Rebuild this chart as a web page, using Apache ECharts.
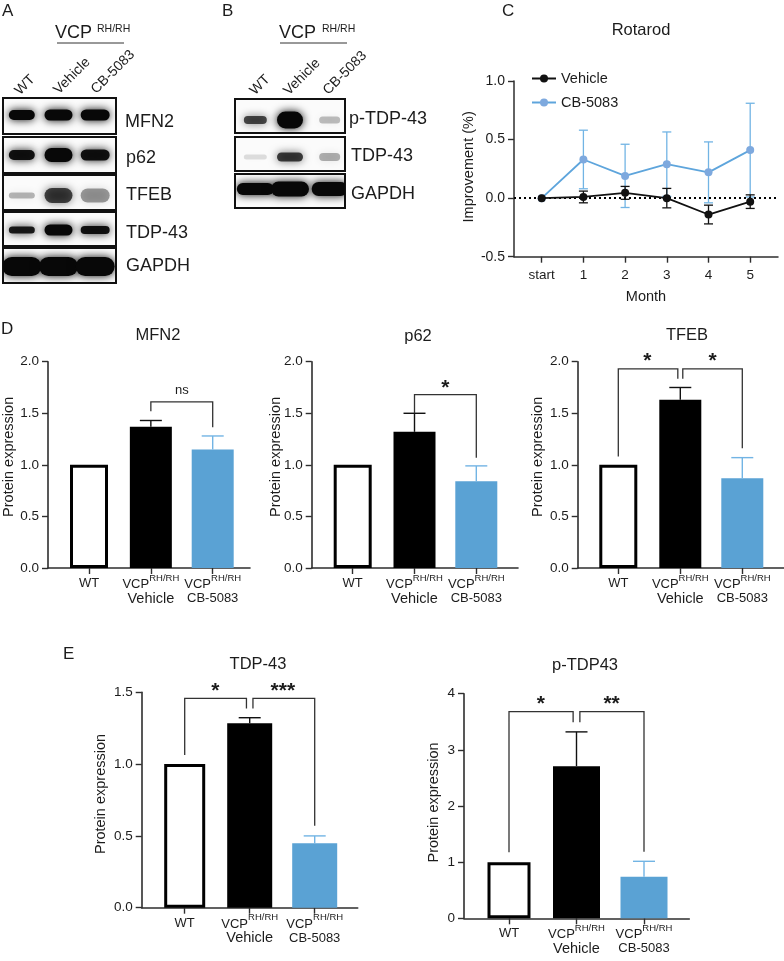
<!DOCTYPE html>
<html><head><meta charset="utf-8">
<style>html,body{margin:0;padding:0;background:#fff}#c{width:784px;height:961px}</style>
<script src="https://cdn.jsdelivr.net/npm/echarts@6/dist/echarts.min.js"></script>
</head><body><div id="c"></div>
<script>
// ---------- data ----------
const barGroups = ['WT', 'Vehicle', 'CB-5083'];
const mfn2Values = [1, 1.37, 1.15];
const mfn2Upper = [null, 1.43, 1.28];
const p62Values = [1, 1.32, 0.84];
const p62Upper = [null, 1.50, 0.99];
const tfebValues = [1, 1.63, 0.87];
const tfebUpper = [null, 1.75, 1.07];
const tdpValues = [1, 1.284, 0.448];
const tdpUpper = [null, 1.323, 0.50];
const pTdpValues = [1, 2.71, 0.742];
const pTdpUpper = [null, 3.32, 1.015];

const months = ['start', '1', '2', '3', '4', '5'];
const vehicleMean = [0, 0.01, 0.045, 0, -0.14, -0.03];
const vehicleErr = [0, 0.05, 0.055, 0.083, 0.08, 0.058];
const cbMean = [0, 0.33, 0.19, 0.29, 0.22, 0.41];
const cbErr = [0, 0.25, 0.27, 0.275, 0.26, 0.40];

// brackets: [xFrom, yFromBottom, xTo, yToBottom, yTop]
const mfn2Brackets = [[1, 1.52, 2, 1.365, 1.61]];
const p62Brackets = [[1, 1.50, 2, 1.07, 1.68]];
const tfebBrackets = [[0, 1.08, 0.96, 1.835, 1.93], [1.04, 1.835, 2, 1.16, 1.93]];
const tdpBrackets = [[0, 1.063, 0.95, 1.388, 1.458], [1.05, 1.388, 2, 0.57, 1.458]];
const pTdpBrackets = [[0, 1.175, 0.95, 3.49, 3.68], [1.05, 3.49, 2, 1.187, 3.68]];
// significance marks: [x, y, text]
const mfn2Marks = [[1.5, 1.72, 'ns']];
const p62Marks = [[1.5, 1.74, '*']];
const tfebMarks = [[0.47, 2.0, '*'], [1.52, 2.0, '*']];
const tdpMarks = [[0.47, 1.51, '*'], [1.51, 1.51, '***']];
const pTdpMarks = [[0.47, 3.82, '*'], [1.52, 3.82, '**']];

// blots: band intensity and band thickness, per lane
const blotLanes = ['WT', 'Vehicle', 'CB-5083'];
const aMfn2 = [1, 1, 1],        aMfn2Th = [10, 11, 11];
const aP62 = [0.95, 1, 0.95],   aP62Th = [10, 14, 11];
const aTfeb = [0.28, 0.72, 0.38], aTfebTh = [6, 15, 14];
const aTdp = [0.9, 1, 0.95],    aTdpTh = [7, 11, 8];
const aGapdh = [1, 1, 1],       aGapdhTh = [19, 19, 19];
const bPTdp = [0.7, 1, 0.25],   bPTdpTh = [8, 17, 7];
const bTdp = [0.12, 0.75, 0.3], bTdpTh = [5, 9, 8];
const bGapdh = [1, 1, 1],       bGapdhTh = [12, 15, 14];

// ---------- layout / style ----------
const FONT = '"Liberation Sans", Arial, sans-serif';
const INK = '#1c1c1c', AX = '#2e2e2e', BLUE = '#5aa2d4', BLUE_ERR = '#72b4e4', LINE_BLUE = '#5ea5dc', DOT_BLUE = '#7ea9de';

const grid = [], xAxis = [], yAxis = [], series = [];

function blot(box, lanes, th, bandW, cy, shift) {
  const g = grid.length, xi = xAxis.length, yi = yAxis.length;
  grid.push({left: box[0], top: box[1], width: box[2], height: box[3], show: true,
    borderColor: '#111', borderWidth: 2, backgroundColor: '#fbfbfb'});
  xAxis.push({gridIndex: g, type: 'category', data: blotLanes, show: false});
  yAxis.push({gridIndex: g, type: 'value', min: -1, max: 1, show: false});
  series.push({type: 'custom', coordinateSystem: 'cartesian2d', xAxisIndex: xi, yAxisIndex: yi, clip: true, silent: true,
    data: lanes.map((v, k) => [k, 0, v, th[k]]),
    renderItem(params, api) {
      const k = api.value(0);
      const p = api.coord([k, 0]);
      const a = api.value(2), t = api.value(3);
      const w = bandW[k];
      const col = 'rgba(8,8,8,' + a + ')';
      return {type: 'rect',
        shape: {x: p[0] + shift[k] - w / 2, y: p[1] + cy - t / 2, width: w, height: t, r: t / 2},
        style: {fill: col, shadowBlur: 8, shadowColor: col}};
    }});
}
const aW = [26, 28, 29], bW = [23, 26, 21], aS = [0, -1, -2], bS = [2, 0, 3];
blot([3, 98, 113, 36], aMfn2, aMfn2Th, aW, -1, aS);
blot([3, 137, 113, 36], aP62, aP62Th, aW, 0, aS);
blot([3, 175, 113, 35], aTfeb, aTfebTh, aW, 3, aS);
blot([3, 212, 113, 34], aTdp, aTdpTh, aW, 1, aS);
blot([3, 248, 113, 35], aGapdh, aGapdhTh, [39, 39, 39], 1, aS);
blot([235, 99, 110, 34], bPTdp, bPTdpTh, bW, 4, bS);
blot([235, 137, 110, 34], bTdp, bTdpTh, bW, 3, bS);
blot([235, 174, 110, 34], bGapdh, bGapdhTh, [37, 38, 36], -2, bS);

function xLabel(v) {
  const i = Math.round(v);
  if (i === 0) return '{w|WT}';
  return '{v|VCP}{s|RH/RH}\n{' + (i === 1 ? 'l' : 'c') + '|' + barGroups[i] + '}';
}
function barChart(g, values, upper, brackets, marks, yMax, yInt, dec, nameGap, namePad) {
  const i = grid.length, xIdx = xAxis.length, wtAxis = xIdx + 1, yIdx = yAxis.length;
  grid.push({left: g.l, top: g.t, width: g.r - g.l, height: g.b - g.t});
  const base = {gridIndex: i, type: 'value', min: (g.l - g.c0) / g.step, max: (g.r - g.c0) / g.step, splitLine: {show: false}};
  xAxis.push(Object.assign({}, base, {
    axisLine: {show: true, onZero: false, lineStyle: {color: AX, width: 1.6}},
    axisTick: {show: true, length: 6, lineStyle: {color: AX, width: 1.4}, customValues: [0, 1, 2]},
    axisLabel: {show: true, margin: 5, interval: 0, hideOverlap: false, customValues: [0, 1, 2], formatter: xLabel, verticalAlign: 'top', fontFamily: FONT,
      rich: {
        w: {fontSize: 13, fontFamily: FONT, color: INK, padding: [4, 0, 0, 0]},
        v: {fontSize: 13, fontFamily: FONT, color: INK, lineHeight: 18, verticalAlign: 'bottom'},
        s: {fontSize: 9.5, fontFamily: FONT, color: INK, lineHeight: 12, verticalAlign: 'top'},
        l: {fontSize: 14.5, fontFamily: FONT, color: INK, lineHeight: 15},
        c: {fontSize: 13, fontFamily: FONT, color: INK, lineHeight: 15}
      }}
  }));
  xAxis.push(Object.assign({}, base, {show: false}));
  yAxis.push({gridIndex: i, type: 'value', min: 0, max: yMax, interval: yInt, splitLine: {show: false},
    name: 'Protein expression', nameLocation: 'middle', nameRotate: 90, nameGap: nameGap, nameMoveOverlap: false,
    nameTextStyle: {fontSize: 14.5, fontFamily: FONT, color: INK, padding: namePad},
    axisLine: {show: true, onZero: false, lineStyle: {color: AX, width: 1.6}},
    axisTick: {show: true, length: 6, lineStyle: {color: AX, width: 1.4}},
    axisLabel: {margin: 9, fontSize: 13.5, fontFamily: FONT, color: INK, formatter: v => v.toFixed(dec)}});
  series.push({type: 'bar', name: 'WT', xAxisIndex: wtAxis, yAxisIndex: yIdx, barWidth: g.w - 3,
    data: [[0, values[0]]], itemStyle: {color: '#fff', borderColor: '#000', borderWidth: 3}, z: 2});
  series.push({type: 'bar', name: 'VCP', xAxisIndex: xIdx, yAxisIndex: yIdx, barWidth: g.w + 1, z: 2,
    data: [{value: [1, values[1]], itemStyle: {color: '#000'}}, {value: [2, values[2]], itemStyle: {color: BLUE}}]});
  series.push({type: 'custom', coordinateSystem: 'cartesian2d', xAxisIndex: xIdx, yAxisIndex: yIdx, z: 3, silent: true, clip: false,
    data: [1, 2].map(k => [k, values[k], upper[k]]),
    renderItem(params, api) {
      const a = api.coord([api.value(0), api.value(1)]), b = api.coord([api.value(0), api.value(2)]);
      const col = api.value(0) === 1 ? '#111' : BLUE_ERR;
      return {type: 'group', children: [
        {type: 'line', shape: {x1: a[0], y1: a[1], x2: b[0], y2: b[1]}, style: {stroke: col, lineWidth: 1.4}},
        {type: 'line', shape: {x1: b[0] - 11, y1: b[1], x2: b[0] + 11, y2: b[1]}, style: {stroke: col, lineWidth: 1.4}}]};
    }});
  series.push({type: 'custom', coordinateSystem: 'cartesian2d', xAxisIndex: xIdx, yAxisIndex: yIdx, z: 4, silent: true, clip: false,
    data: brackets,
    renderItem(params, api) {
      const a = api.coord([api.value(0), api.value(1)]), b = api.coord([api.value(0), api.value(4)]);
      const c = api.coord([api.value(2), api.value(4)]), d = api.coord([api.value(2), api.value(3)]);
      return {type: 'polyline', shape: {points: [a, b, c, d]}, style: {fill: 'none', stroke: '#333', lineWidth: 1.3}};
    }});
  series.push({type: 'custom', coordinateSystem: 'cartesian2d', xAxisIndex: xIdx, yAxisIndex: yIdx, z: 4, silent: true, clip: false,
    data: marks.map(m => [m[0], m[1]]),
    renderItem(params, api) {
      const p = api.coord([api.value(0), api.value(1)]);
      const t = marks[params.dataIndex][2];
      return {type: 'text', x: p[0], y: p[1], style: {text: t, align: 'center', verticalAlign: 'middle',
        fontFamily: FONT, fontSize: t === 'ns' ? 13 : 21, fill: INK, fontWeight: t === 'ns' ? 'normal' : 'bold'}};
    }});
}
barChart({l: 48, r: 250, t: 361.7, b: 568, c0: 89, step: 61.85, w: 41}, mfn2Values, mfn2Upper, mfn2Brackets, mfn2Marks, 2, 0.5, 1, 32, [0, 0, 0, 16]);
barChart({l: 311.7, r: 518, t: 361.7, b: 568, c0: 352.7, step: 61.8, w: 41}, p62Values, p62Upper, p62Brackets, p62Marks, 2, 0.5, 1, 28, [0, 0, 0, 16]);
barChart({l: 577.7, r: 783.7, t: 361.7, b: 568, c0: 618.3, step: 62, w: 41}, tfebValues, tfebUpper, tfebBrackets, tfebMarks, 2, 0.5, 1, 32, [0, 0, 0, 16]);
barChart({l: 141.7, r: 357.7, t: 692.3, b: 907.7, c0: 184.7, step: 65, w: 44}, tdpValues, tdpUpper, tdpBrackets, tdpMarks, 1.5, 0.5, 1, 33, [0, 0, 0, 12]);
barChart({l: 464, r: 689.3, t: 693.7, b: 918.3, c0: 509, step: 67.5, w: 46}, pTdpValues, pTdpUpper, pTdpBrackets, pTdpMarks, 4, 1, 0, 23, [0, 0, 0, 7]);

// panel C: rotarod
(function () {
  const g = grid.length, xi = xAxis.length, yi = yAxis.length, l = 514, r = 778, c0 = 541.7, step = 41.7;
  grid.push({left: l, top: 81, width: r - l, height: 175.7});
  xAxis.push({gridIndex: g, type: 'value', min: (l - c0) / step, max: (r - c0) / step, splitLine: {show: false},
    name: 'Month', nameLocation: 'middle', nameGap: 33, nameMoveOverlap: false, nameTextStyle: {fontSize: 14.5, fontFamily: FONT, color: INK},
    axisLine: {show: true, onZero: false, lineStyle: {color: AX, width: 1.5}},
    axisTick: {show: true, length: 6, lineStyle: {color: AX, width: 1.4}, customValues: [0, 1, 2, 3, 4, 5]},
    axisLabel: {margin: 12, fontSize: 13.5, fontFamily: FONT, color: INK, customValues: [0, 1, 2, 3, 4, 5], formatter: v => months[Math.round(v)]}});
  yAxis.push({gridIndex: g, type: 'value', min: -0.5, max: 1, interval: 0.5, splitLine: {show: false},
    name: 'Improvement (%)', nameLocation: 'middle', nameRotate: 90, nameGap: 38, nameMoveOverlap: false,
    nameTextStyle: {fontSize: 14.5, fontFamily: FONT, color: INK, padding: [0, 0, 0, 4]},
    axisLine: {show: true, onZero: false, lineStyle: {color: AX, width: 1.5}},
    axisTick: {show: true, length: 6, lineStyle: {color: AX, width: 1.4}},
    axisLabel: {margin: 9, fontSize: 14, fontFamily: FONT, color: INK, formatter: v => v.toFixed(1)}});
  function err(mean, e, col, z) {
    return {type: 'custom', coordinateSystem: 'cartesian2d', xAxisIndex: xi, yAxisIndex: yi, z, silent: true, clip: false,
      data: mean.map((m, k) => [k, m - e[k], m + e[k]]).slice(1),
      renderItem(params, api) {
        const a = api.coord([api.value(0), api.value(1)]), b = api.coord([api.value(0), api.value(2)]);
        const cap = (p) => ({type: 'line', shape: {x1: p[0] - 4.5, y1: p[1], x2: p[0] + 4.5, y2: p[1]}, style: {stroke: col, lineWidth: 1.3}});
        return {type: 'group', children: [{type: 'line', shape: {x1: a[0], y1: a[1], x2: b[0], y2: b[1]}, style: {stroke: col, lineWidth: 1.3}}, cap(a), cap(b)]};
      }};
  }
  series.push({type: 'line', name: 'Dotted zero', xAxisIndex: xi, yAxisIndex: yi, data: [], silent: true,
    markLine: {silent: true, symbol: 'none', label: {show: false}, lineStyle: {color: '#000', type: [2, 3], width: 2}, data: [{yAxis: 0}]}});
  series.push(err(cbMean, cbErr, BLUE_ERR, 3));
  series.push(err(vehicleMean, vehicleErr, '#111', 5));
  series.push({type: 'line', name: 'CB-5083', xAxisIndex: xi, yAxisIndex: yi, z: 4, symbol: 'circle', symbolSize: 8,
    data: cbMean.map((v, k) => [k, v]), lineStyle: {color: LINE_BLUE, width: 1.8}, itemStyle: {color: DOT_BLUE}});
  series.push({type: 'line', name: 'Vehicle', xAxisIndex: xi, yAxisIndex: yi, z: 6, symbol: 'circle', symbolSize: 8,
    data: vehicleMean.map((v, k) => [k, v]), lineStyle: {color: '#111', width: 1.8}, itemStyle: {color: '#111'}});
})();

// ---------- text annotations ----------
function txt(text, x, y, size, extra) {
  return Object.assign({type: 'text', x, y, silent: true, style: Object.assign({text, fontSize: size, fontFamily: FONT, fill: INK,
    align: 'left', verticalAlign: 'middle'}, (extra && extra.style) || {})}, extra && extra.rotation !== undefined ? {rotation: extra.rotation} : {});
}
const center = {style: {align: 'center'}};
const graphicEls = [
  txt('A', 2, 11, 17), txt('B', 222, 11, 17), txt('C', 502, 11, 17), txt('D', 1, 329, 17), txt('E', 63, 654, 17),
  txt('Rotarod', 641, 30, 16.5, center), txt('MFN2', 158, 335, 16.5, center), txt('p62', 418, 336, 16.5, center),
  txt('TFEB', 687, 335, 16.5, center), txt('TDP-43', 258, 664, 16.5, center), txt('p-TDP43', 585, 665, 16.5, center),
  txt('VCP', 55, 33, 18), txt('RH/RH', 97, 29, 10.5),
  txt('VCP', 279, 33, 18), txt('RH/RH', 322, 29, 10.5),
  txt('MFN2', 125, 122, 18), txt('p62', 126, 158, 18), txt('TFEB', 126, 195, 18), txt('TDP-43', 126, 233, 18), txt('GAPDH', 126, 266, 18),
  txt('p-TDP-43', 349, 119, 18), txt('TDP-43', 351, 156, 18), txt('GAPDH', 351, 194, 18)
];
[[25, 85, 'WT'], [72, 76, 'Vehicle'], [113, 72, 'CB-5083'], [260, 85, 'WT'], [302, 77, 'Vehicle'], [345, 73, 'CB-5083']].forEach(a => {
  graphicEls.push(txt(a[2], a[0], a[1], 14, {style: {align: 'center'}, rotation: Math.PI / 4}));
});
graphicEls.push({type: 'line', silent: true, shape: {x1: 57, y1: 43, x2: 124, y2: 43}, style: {stroke: '#333', lineWidth: 1}});
graphicEls.push({type: 'line', silent: true, shape: {x1: 280, y1: 43, x2: 347, y2: 43}, style: {stroke: '#333', lineWidth: 1}});

const chart = echarts.init(document.getElementById('c'), null, {renderer: 'canvas', width: 784, height: 961});
chart.setOption({
  animation: false, backgroundColor: '#fff', textStyle: {fontFamily: FONT},
  tooltip: {show: false},
  legend: {data: ['Vehicle', 'CB-5083'], orient: 'vertical', left: 526, top: 66, itemWidth: 24, itemHeight: 10, itemGap: 9, selectedMode: false,
    textStyle: {fontSize: 14.5, fontFamily: FONT, color: INK}},
  grid, xAxis, yAxis, series, graphic: {elements: graphicEls}
});
</script></body></html>
